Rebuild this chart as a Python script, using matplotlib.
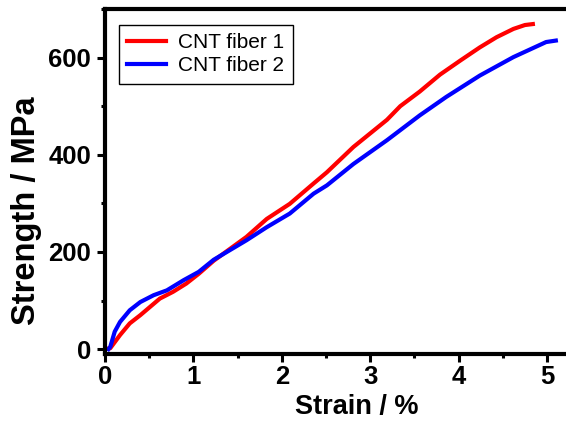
import matplotlib
matplotlib.use('Agg')
import matplotlib.pyplot as plt
from matplotlib.ticker import MultipleLocator

# --- data ---
strain_1 = [0.0, 0.06, 0.17, 0.28, 0.40, 0.51, 0.62, 0.77, 0.92, 1.06, 1.23,
            1.60, 1.83, 2.09, 2.36, 2.51, 2.81, 3.19, 3.34, 3.56, 3.79, 4.02,
            4.24, 4.43, 4.62, 4.75, 4.84]
stress_1 = [0, 2, 29, 53, 70, 87, 104, 118, 135, 155, 182,
            231, 268, 299, 341, 364, 416, 472, 500, 530, 565, 594,
            621, 642, 659, 667, 669]

strain_2 = [0.04, 0.06, 0.11, 0.17, 0.28, 0.40, 0.55, 0.70, 0.89, 1.06, 1.23,
            1.60, 1.83, 2.09, 2.36, 2.51, 2.81, 3.19, 3.56, 3.86, 4.24, 4.62,
            4.99, 5.10]
stress_2 = [0, 5, 36, 56, 80, 97, 111, 121, 142, 159, 184,
            224, 251, 279, 320, 337, 381, 430, 481, 519, 563, 601,
            632, 635]

labels = ['CNT fiber 1', 'CNT fiber 2']

plt.rcParams['font.family'] = ['Liberation Sans', 'DejaVu Sans']

fig = plt.figure(figsize=(5.66, 4.25), dpi=100)
ax = fig.add_axes([105 / 566, 1 - 354 / 425, 461 / 566, 345 / 425])

ax.plot(strain_1, stress_1, color='#ff0000', linewidth=3, label=labels[0])
ax.plot(strain_2, stress_2, color='#0000ff', linewidth=3, label=labels[1])

ax.set_xlim(0, 5.215)
ax.set_ylim(-10, 700)
ax.xaxis.set_major_locator(MultipleLocator(1))
ax.xaxis.set_minor_locator(MultipleLocator(0.5))
ax.yaxis.set_major_locator(MultipleLocator(200))
ax.yaxis.set_minor_locator(MultipleLocator(100))

for side in ('left', 'bottom', 'top'):
    ax.spines[side].set_linewidth(3)
ax.spines['right'].set_visible(False)

ax.tick_params(which='major', direction='out', length=6, width=2.2,
               labelsize=18.5, pad=2)
ax.tick_params(which='minor', direction='out', length=3, width=2.2)
ax.tick_params(axis='y', which='major', pad=4)
for lbl in ax.get_xticklabels() + ax.get_yticklabels():
    lbl.set_fontweight('bold')

ax.set_xlabel('Strain / %', fontsize=19.5, fontweight='bold')
ax.xaxis.label.set_verticalalignment('center')
ax.xaxis.set_label_coords(0.547, -0.154)
ax.set_ylabel('Strength / MPa', fontsize=23.5, fontweight='bold')
ax.yaxis.label.set_verticalalignment('center')
ax.yaxis.set_label_coords(-0.171, 0.414)

leg = ax.legend(loc='upper left', bbox_to_anchor=(0.030, 0.954),
                borderaxespad=0, fontsize=15, handlelength=1.85,
                handletextpad=0.6, labelspacing=0.2, borderpad=0.4,
                fancybox=False, framealpha=1)
leg.get_frame().set_edgecolor('black')
leg.get_frame().set_linewidth(1)

fig.savefig('out.png', dpi=100)
